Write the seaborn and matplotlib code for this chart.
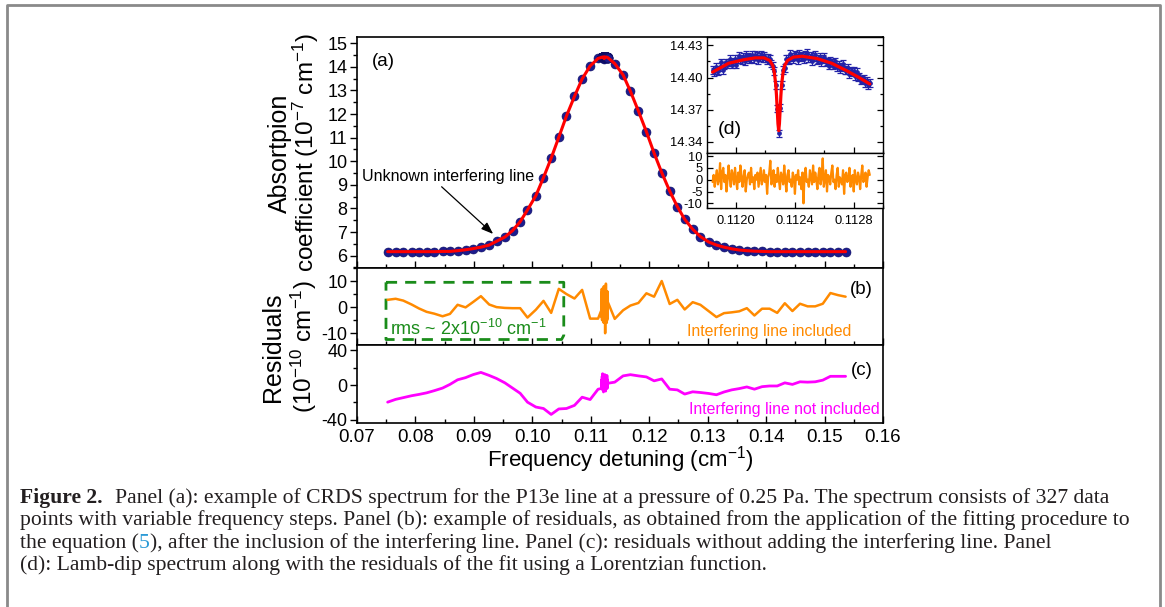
import numpy as np
import pandas as pd
import matplotlib
matplotlib.use("Agg")
import matplotlib.pyplot as plt
from matplotlib.ticker import MultipleLocator, FormatStrFormatter
from matplotlib.lines import Line2D
import seaborn as sns

# ---------------- data ----------------
freq_main = [0.07524, 0.07661, 0.07792, 0.07935, 0.08060, 0.08191, 0.08322, 0.08464, 0.08590, 0.08721,
             0.08858, 0.08989, 0.09120, 0.09262, 0.09388, 0.09530, 0.09661, 0.09792, 0.09917, 0.10060,
             0.10191, 0.10322, 0.10453, 0.10584, 0.10721, 0.10852, 0.10989, 0.11125, 0.11410, 0.11553,
             0.11678, 0.11815, 0.11952, 0.12083, 0.12214, 0.12350, 0.12481, 0.12607, 0.12744, 0.12875,
             0.13017, 0.13150, 0.13280, 0.13410, 0.13540, 0.13670, 0.13800, 0.13930, 0.14060, 0.14190,
             0.14320, 0.14450, 0.14580, 0.14710, 0.14840, 0.14970, 0.15100, 0.15230, 0.15360]

absorption_main = [6.17, 6.17, 6.17, 6.17, 6.17, 6.17, 6.17, 6.18, 6.18, 6.21,
                   6.25, 6.30, 6.36, 6.45, 6.61, 6.79, 7.06, 7.44, 7.94, 8.54,
                   9.31, 10.13, 11.02, 11.92, 12.75, 13.49, 14.04, 14.36, 14.14, 13.66,
                   12.97, 12.13, 11.25, 10.35, 9.52, 8.74, 8.08, 7.54, 7.12, 6.81,
                   6.58, 6.45, 6.36, 6.29, 6.24, 6.21, 6.19, 6.18, 6.17, 6.17,
                   6.17, 6.17, 6.17, 6.17, 6.17, 6.17, 6.17, 6.17, 6.17]

resid_included = [2.8, 3.2, 2.5, 1.0, -0.5, -1.8, -2.5, -3.5, -2.6, 0.9,
                  -0.1, 2.0, 4.2, 1.0, 0.0, -0.3, -0.4, -0.4, -4.0, -1.0,
                  2.4, -2.2, 7.0, 5.0, 3.3, 6.6, -4.4, -4.4, -4.5, -1.2,
                  0.6, 1.6, 5.3, 4.0, 10.0, 1.2, 2.8, -0.9, 1.9, 0.9,
                  -1.5, -3.8, -2.3, -2.0, -1.6, -0.4, -3.2, -0.6, -0.6, -2.2,
                  1.5, -1.5, 1.3, 0.3, 0.3, 1.3, 5.4, 4.6, 4.0]

resid_not_included = [-19.7, -16.5, -14.5, -12.3, -10.8, -9.0, -6.5, -3.5, 0.7, 6.0,
                      8.5, 12.0, 14.5, 11.0, 7.5, 2.5, -3.5, -9.5, -19.7, -25.3,
                      -27.0, -33.8, -27.5, -27.0, -23.4, -14.0, -16.7, -4.8, 3.3, 10.5,
                      11.9, 10.5, 9.3, 4.8, 7.0, -4.8, -5.6, -10.4, -7.8, -8.6,
                      -9.7, -11.2, -8.0, -5.6, -4.1, -2.2, -4.8, -1.9, -1.1, -1.1,
                      2.5, 0.7, 3.7, 3.3, 3.7, 5.6, 10.0, 10.0, 10.0]

# Lamb-dip scan (panel d)
lamb_range = (0.11184, 0.11291)
lamb_absorption = [14.407, 14.405, 14.410, 14.407, 14.406, 14.410, 14.414, 14.407, 14.411, 14.414,
                   14.412, 14.414, 14.417, 14.412, 14.415, 14.417, 14.412, 14.417, 14.420, 14.417,
                   14.416, 14.419, 14.415, 14.421, 14.419, 14.417, 14.418, 14.421, 14.417, 14.421,
                   14.420, 14.416, 14.419, 14.421, 14.418, 14.420, 14.418, 14.416, 14.418, 14.417,
                   14.413, 14.411, 14.406, 14.393, 14.371, 14.348, 14.372, 14.393, 14.407, 14.409,
                   14.417, 14.417, 14.416, 14.422, 14.419, 14.417, 14.421, 14.420, 14.416, 14.422,
                   14.419, 14.420, 14.417, 14.421, 14.423, 14.418, 14.418, 14.420, 14.415, 14.419,
                   14.421, 14.416, 14.417, 14.419, 14.414, 14.417, 14.419, 14.414, 14.415, 14.411,
                   14.416, 14.414, 14.411, 14.415, 14.412, 14.410, 14.412, 14.408, 14.410, 14.413,
                   14.407, 14.407, 14.409, 14.403, 14.406, 14.405, 14.406, 14.401, 14.405, 14.400,
                   14.401, 14.397, 14.398, 14.399, 14.395, 14.397, 14.393, 14.395]
lamb_error = 0.0035

lamb_fit_x = [0.11184, 0.11195, 0.11205, 0.11213, 0.11219, 0.11223, 0.11225, 0.11226, 0.11227,
              0.112275, 0.11228, 0.112285, 0.11229, 0.112295, 0.11230, 0.112305, 0.11231, 0.11232,
              0.11233, 0.11235, 0.11239, 0.11245, 0.11255, 0.11265, 0.11275, 0.11283, 0.11291]
lamb_fit_y = [14.405, 14.4133, 14.4165, 14.4183, 14.4183, 14.4158, 14.411, 14.405, 14.3935,
              14.3834, 14.3705, 14.357, 14.3505, 14.357, 14.3705, 14.3834, 14.3935, 14.405,
              14.411, 14.4158, 14.419, 14.4198, 14.4177, 14.4133, 14.4065, 14.4005, 14.394]

lamb_resid = [-1, 2, -3, 1, 4, -2, 0, 7, -4, 3, 5, -1, 2, -5, 0, 6, 1, -3, 4, 2,
              -2, 5, 0, -4, 3, -1, 6, 2, -3, 1, 4, -5, 0, 2, 3, -2, 5, -1, 1, -4,
              2, 0, 3, -3, 1, 5, -2, 0, 4, -1, 2, -6, 1, 3, 8, -2, 0, 4, -3, 2,
              -1, 5, 0, -4, 3, 1, -2, 6, 0, -5, 2, 4, -1, 0, -3, 3, 1, -6, 2, 0,
              4, -2, 1, -4, 3, -10, 2, 5, -1, 0, -3, 4, 1, -2, 6, -1, 3, 0, -4, 2,
              5, -2, 1, 9, -3, 0, 4, -5, 2, 1, -2, 3, 6, -1, 0, -4, 2, 5, -3, 1,
              0, -2, 4, -6, 2, 3, -1, 0, 5, -3, 1, 2, -5, 4, 0, -2, 3, 1, -4, 2,
              6, -1, 0, 3, -3, 1, 4, 2]

resid_not_included_dip = [-4, 6, -2, 10, 0, 13, -6, 8, 2, -8, 11, 3, -3, 9, -1, 12, -5, 7, 1, -7,
                          10, 4, -2, 8, 0, 11, -4, 6, 3, 2]

# ---------------- style ----------------
sns.set_theme(style="ticks")
plt.rcParams.update({
    "font.family": ["Liberation Sans", "DejaVu Sans"],
    "mathtext.fontset": "custom",
    "mathtext.rm": "Liberation Sans",
    "mathtext.it": "Liberation Sans:italic",
    "mathtext.bf": "Liberation Sans:bold",
    "axes.unicode_minus": False,
    "axes.linewidth": 1.2,
    "axes.edgecolor": "black",
    "axes.facecolor": "white",
    "xtick.color": "black",
    "ytick.color": "black",
    "text.color": "black",
})

W, H = 1165, 607
fig = plt.figure(figsize=(W / 100, H / 100), dpi=100)
fig.patch.set_facecolor("white")


def px_axes(x0, y0, x1, y1):
    return fig.add_axes([x0 / W, 1 - y1 / H, (x1 - x0) / W, (y1 - y0) / H])


L, R = 357, 883
axa = px_axes(L, 36.7, R, 267.7)
axb = px_axes(L, 267.7, R, 345)
axc = px_axes(L, 345, R, 423.3)
axd = px_axes(706.7, 36.7, R, 152.7)
axe = px_axes(706.7, 152.7, R, 208.3)

# combined frames
lamb_x = np.linspace(lamb_range[0], lamb_range[1], len(lamb_absorption))
lamb_rx = np.linspace(lamb_range[0], lamb_range[1], len(lamb_resid))
dip_rx = np.linspace(lamb_range[0], lamb_range[1], len(resid_not_included_dip))

df_pts = pd.DataFrame({"f": list(freq_main) + list(lamb_x),
                       "a": list(absorption_main) + list(lamb_absorption)})
df_fit = pd.DataFrame({"f": list(freq_main) + list(lamb_fit_x),
                       "a": list(absorption_main) + list(lamb_fit_y)}).sort_values("f")
df_b = pd.DataFrame({"f": list(freq_main) + list(lamb_rx),
                     "r": list(resid_included) + list(lamb_resid)}).sort_values("f")
df_c = pd.DataFrame({"f": list(freq_main) + list(dip_rx),
                     "r": list(resid_not_included) + list(resid_not_included_dip)}).sort_values("f")

BLUE = "#1c1c8e"
RED = "#ff0000"
ORANGE = "#ff8a00"
MAGENTA = "#ff00ff"
GREEN = "#1a8c1a"

# ---------------- panel (a) ----------------
sns.scatterplot(data=df_pts, x="f", y="a", ax=axa, color=BLUE, s=42,
                edgecolor="#0c0c60", linewidth=0.4, zorder=2, legend=False)
sns.lineplot(data=df_fit, x="f", y="a", ax=axa, color=RED, linewidth=2.2,
             estimator=None, sort=False, zorder=3, legend=False)
axa.set_ylim(5.49, 15.28)
axa.yaxis.set_major_locator(MultipleLocator(1))
axa.yaxis.set_minor_locator(MultipleLocator(0.5))

# ---------------- panel (b) ----------------
sns.lineplot(data=df_b, x="f", y="r", ax=axb, color=ORANGE, linewidth=1.8,
             estimator=None, sort=False, legend=False)
axb.set_ylim(-14.5, 15.1)
axb.yaxis.set_major_locator(MultipleLocator(10))
axb.yaxis.set_minor_locator(MultipleLocator(5))

# ---------------- panel (c) ----------------
sns.lineplot(data=df_c, x="f", y="r", ax=axc, color=MAGENTA, linewidth=2.0,
             estimator=None, sort=False, legend=False)
axc.set_ylim(-44, 46)
axc.yaxis.set_major_locator(MultipleLocator(40))
axc.yaxis.set_minor_locator(MultipleLocator(20))

for ax in (axa, axb, axc):
    ax.set_xlim(0.07, 0.16)
    ax.xaxis.set_major_locator(MultipleLocator(0.01))
    ax.xaxis.set_minor_locator(MultipleLocator(0.005))
    ax.xaxis.set_major_formatter(FormatStrFormatter("%.2f"))
    ax.tick_params(axis="x", which="both", direction="in", bottom=True, top=False)
    ax.tick_params(axis="x", which="major", length=5, width=1, labelsize=13.5, pad=4)
    ax.tick_params(axis="x", which="minor", length=3, width=1)
    ax.tick_params(axis="y", which="both", direction="out", left=True, right=False)
    ax.tick_params(axis="y", which="major", length=5, width=1, labelsize=13, pad=2)
    ax.tick_params(axis="y", which="minor", length=3, width=1)
    ax.set_xlabel("")
    ax.set_ylabel("")
    for sp in ax.spines.values():
        sp.set_visible(True)
        sp.set_linewidth(1.2)
axa.tick_params(axis="x", labelbottom=False)
axb.tick_params(axis="x", labelbottom=False)

# ---------------- inset (d) ----------------
axd.errorbar(lamb_x, lamb_absorption, yerr=lamb_error, fmt="o", ms=2.4, color="#2323a8",
             ecolor="#2323a8", elinewidth=0.9, capsize=2.2, capthick=0.9, zorder=2)
sns.lineplot(x=lamb_fit_x, y=lamb_fit_y, ax=axd, color=RED, linewidth=2.3,
             estimator=None, sort=False, zorder=3, legend=False)
axd.set_ylim(14.33, 14.438)
axd.yaxis.set_major_locator(MultipleLocator(0.03))
axd.yaxis.set_minor_locator(MultipleLocator(0.015))
axd.yaxis.set_major_formatter(FormatStrFormatter("%.2f"))

sns.lineplot(x=lamb_rx, y=lamb_resid, ax=axe, color=ORANGE, linewidth=1.6,
             estimator=None, sort=False, legend=False)
axe.set_ylim(-12.1, 11.4)
axe.yaxis.set_major_locator(MultipleLocator(5))
axe.xaxis.set_major_formatter(FormatStrFormatter("%.4f"))

for ax in (axd, axe):
    ax.set_facecolor("white")
    ax.set_xlim(0.1118, 0.1130)
    ax.xaxis.set_major_locator(MultipleLocator(0.0004))
    ax.xaxis.set_minor_locator(MultipleLocator(0.0002))
    ax.tick_params(which="both", direction="in", left=True, right=True, bottom=True, top=False,
                   labelsize=9.3, pad=3)
    ax.tick_params(which="major", length=4, width=0.9)
    ax.tick_params(which="minor", length=2, width=0.9)
    ax.set_xlabel("")
    ax.set_ylabel("")
    for sp in ax.spines.values():
        sp.set_linewidth(1.0)
axd.tick_params(axis="x", labelbottom=False)
axe.tick_params(axis="x", pad=5)

# ---------------- annotations ----------------
axa.text(0.0745, 14.22, "(a)", fontsize=13.5, ha="center", va="center")
axb.text(0.1563, 6.8, "(b)", fontsize=13.5, ha="center", va="center")
axc.text(0.1563, 17, "(c)", fontsize=13.5, ha="center", va="center")
axd.text(0.11196, 14.352, "(d)", fontsize=14, ha="center", va="center")

axa.text(0.0708, 9.35, "Unknown interfering line", fontsize=11.5, ha="left", va="center")
axa.annotate("", xy=(0.0933, 6.92), xytext=(0.08448, 8.92),
             arrowprops=dict(arrowstyle="-|>,head_length=0.6,head_width=0.22",
                             color="black", lw=0.9, shrinkA=0, shrinkB=0))

# green dashed box with chamfered corner
box_f = [0.07496, 0.10538, 0.10538, 0.10500, 0.07496, 0.07496]
box_r = [9.5, 9.5, -10.8, -12.4, -12.4, 9.5]
axb.plot(box_f, box_r, color=GREEN, lw=2.0, linestyle=(0, (4, 2.9)), zorder=1)
axb.text(0.0756, -8.4, "rms ~ 2x10$^{-10}$ cm$^{-1}$", color=GREEN, fontsize=13,
         ha="left", va="center")
axb.text(0.15462, -9.5, "Interfering line included", color=ORANGE, fontsize=11.4,
         ha="right", va="center")
axc.text(0.1594, -27.8, "Interfering line not included", color=MAGENTA, fontsize=11.4,
         ha="right", va="center")

# axis titles
fig.text(280 / W, 1 - 153 / H, "Absortpion", rotation=90, fontsize=18, ha="center", va="center")
fig.text(306 / W, 1 - 153 / H, "coefficient (10$^{-7}$ cm$^{-1}$)", rotation=90, fontsize=17.5,
         ha="center", va="center")
fig.text(273 / W, 1 - 347 / H, "Residuals", rotation=90, fontsize=18, ha="center", va="center")
fig.text(304 / W, 1 - 347 / H, "(10$^{-10}$ cm$^{-1}$)", rotation=90, fontsize=17.5,
         ha="center", va="center")
fig.text(620 / W, 1 - 460 / H, "Frequency detuning (cm$^{-1}$)", fontsize=16,
         ha="center", va="center")

# outer frame
fig.add_artist(Line2D([6.7 / W, 6.7 / W, 1160 / W, 1160 / W], [0, 1 - 4.7 / H, 1 - 4.7 / H, 0],
                      color="#8a8a8a", lw=2, transform=fig.transFigure))

# ---------------- caption ----------------
CAP = "#231f20"
cap_family = ["Liberation Serif", "DejaVu Serif"]
cap_lines_y = [498, 520.5, 543, 565.5]
renderer = fig.canvas.get_renderer()

probe = fig.text(20 / W, 0.5, "points with variable frequency steps. Panel (b): example of residuals, "
                 "as obtained from the application of the fitting procedure to",
                 family=cap_family, fontsize=14)
w = probe.get_window_extent(renderer).width
cap_size = 14 * 1116 / w
probe.remove()


def cap_seq(ypx, parts, x0=20):
    x = x0
    for s, kw in parts:
        t = fig.text(x / W, 1 - ypx / H, s, family=cap_family, fontsize=cap_size, color=kw.get("color", CAP),
                     weight=kw.get("weight", "normal"), ha="left", va="center")
        x += t.get_window_extent(renderer).width + kw.get("gap", 0)


cap_seq(cap_lines_y[0], [("Figure 2.", {"weight": "bold", "gap": 12}),
                         ("Panel (a): example of CRDS spectrum for the P13e line at a pressure of 0.25 Pa. "
                          "The spectrum consists of 327 data", {})])
cap_seq(cap_lines_y[1], [("points with variable frequency steps. Panel (b): example of residuals, as obtained "
                          "from the application of the fitting procedure to", {})])
cap_seq(cap_lines_y[2], [("the equation (", {}), ("5", {"color": "#2b9ad6"}),
                         ("), after the inclusion of the interfering line. Panel (c): residuals without adding "
                          "the interfering line. Panel", {})])
cap_seq(cap_lines_y[3], [("(d): Lamb-dip spectrum along with the residuals of the fit using a Lorentzian function.", {})])

fig.savefig("out.png", dpi=100, facecolor="white")
